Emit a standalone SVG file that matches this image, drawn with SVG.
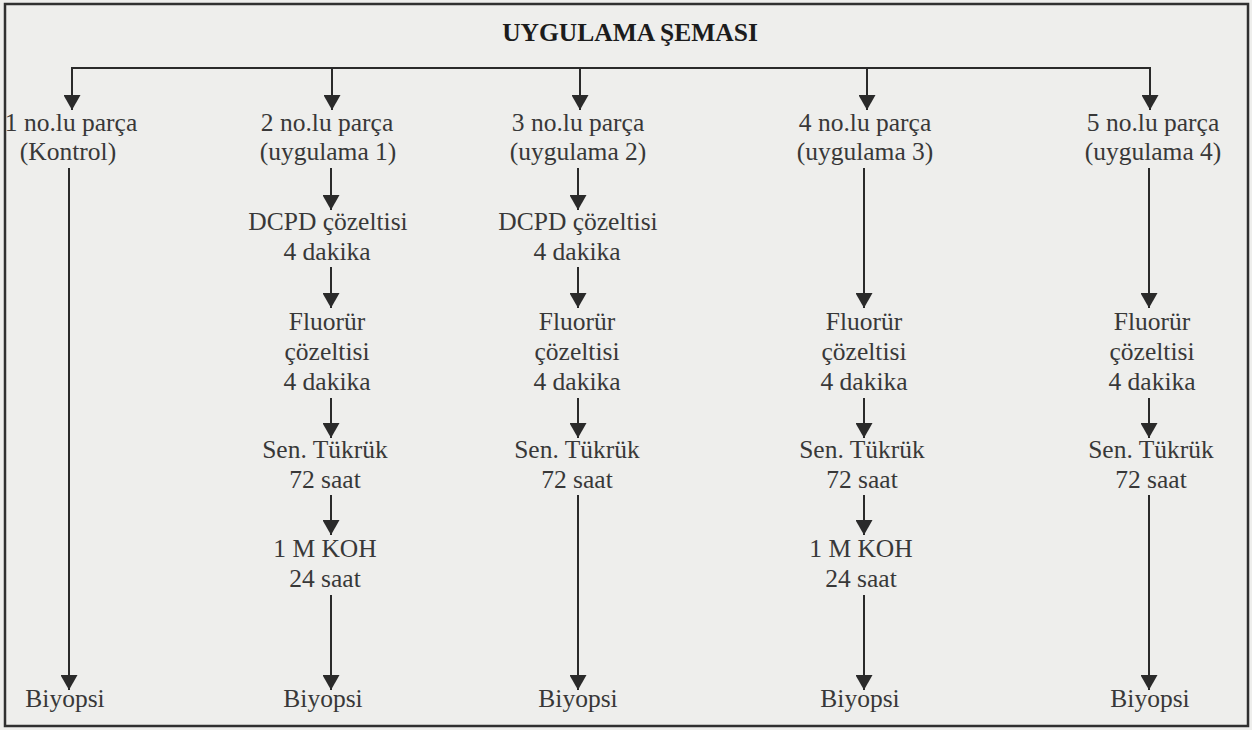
<svg xmlns="http://www.w3.org/2000/svg" width="1252" height="730" viewBox="0 0 1252 730">
<defs>
<marker id="ah" markerUnits="userSpaceOnUse" markerWidth="15" markerHeight="17" refX="15" refY="8.5" orient="auto" viewBox="0 0 15 17">
<path d="M0,0 L15,8.5 L0,17 Z" fill="#2a2a2a"/>
</marker>
<style>
.t{font-family:"Liberation Serif","Times New Roman",serif;font-size:25.5px;fill:#383838;text-anchor:middle}
.h{font-family:"Liberation Serif","Times New Roman",serif;font-size:25.5px;font-weight:bold;fill:#1c1c1c;text-anchor:middle}
.c{stroke:#2a2a2a;stroke-width:2;fill:none}
.a{stroke:#2a2a2a;stroke-width:2;fill:none;marker-end:url(#ah)}
</style>
</defs>
<rect x="0" y="0" width="1252" height="730" fill="#eeeeec"/>
<rect x="5" y="4" width="1243" height="722" fill="none" stroke="#303030" stroke-width="2.5"/>
<text class="h" x="630" y="41">UYGULAMA ŞEMASI</text>
<g id="connectors">
<path class="c" d="M71,68 H1151"/>
<line class="a" x1="72" y1="68" x2="72" y2="110"/>
<line class="a" x1="332" y1="68" x2="332" y2="110"/>
<line class="a" x1="580" y1="68" x2="580" y2="110"/>
<line class="a" x1="867" y1="68" x2="867" y2="110"/>
<line class="a" x1="1150" y1="68" x2="1150" y2="110"/>
<line class="a" x1="69" y1="168" x2="69" y2="690"/>
<line class="a" x1="331" y1="168" x2="331" y2="210"/>
<line class="a" x1="331" y1="267" x2="331" y2="308"/>
<line class="a" x1="331" y1="398" x2="331" y2="438"/>
<line class="a" x1="331" y1="495" x2="331" y2="535"/>
<line class="a" x1="331" y1="595" x2="331" y2="690"/>
<line class="a" x1="578" y1="168" x2="578" y2="210"/>
<line class="a" x1="578" y1="267" x2="578" y2="308"/>
<line class="a" x1="578" y1="398" x2="578" y2="438"/>
<line class="a" x1="578" y1="495" x2="578" y2="690"/>
<line class="a" x1="864" y1="168" x2="864" y2="308"/>
<line class="a" x1="864" y1="398" x2="864" y2="438"/>
<line class="a" x1="864" y1="495" x2="864" y2="535"/>
<line class="a" x1="864" y1="595" x2="864" y2="690"/>
<line class="a" x1="1149" y1="168" x2="1149" y2="308"/>
<line class="a" x1="1149" y1="398" x2="1149" y2="438"/>
<line class="a" x1="1149" y1="495" x2="1149" y2="690"/>
</g>
<g id="col1">
<text class="t" x="71" y="131">1 no.lu parça</text>
<text class="t" x="68" y="160">(Kontrol)</text>
<text class="t" x="65" y="707">Biyopsi</text>
</g>
<g id="col2">
<text class="t" x="327" y="131">2 no.lu parça</text>
<text class="t" x="328" y="160">(uygulama 1)</text>
<text class="t" x="328" y="230">DCPD çözeltisi</text>
<text class="t" x="327" y="260">4 dakika</text>
<text class="t" x="327" y="330">Fluorür</text>
<text class="t" x="327" y="360">çözeltisi</text>
<text class="t" x="327" y="390">4 dakika</text>
<text class="t" x="325" y="458">Sen. Tükrük</text>
<text class="t" x="325" y="488">72 saat</text>
<text class="t" x="325" y="557">1 M KOH</text>
<text class="t" x="325" y="587">24 saat</text>
<text class="t" x="323" y="707">Biyopsi</text>
</g>
<g id="col3">
<text class="t" x="578" y="131">3 no.lu parça</text>
<text class="t" x="578" y="160">(uygulama 2)</text>
<text class="t" x="578" y="230">DCPD çözeltisi</text>
<text class="t" x="577" y="260">4 dakika</text>
<text class="t" x="577" y="330">Fluorür</text>
<text class="t" x="577" y="360">çözeltisi</text>
<text class="t" x="577" y="390">4 dakika</text>
<text class="t" x="577" y="458">Sen. Tükrük</text>
<text class="t" x="577" y="488">72 saat</text>
<text class="t" x="578" y="707">Biyopsi</text>
</g>
<g id="col4">
<text class="t" x="865" y="131">4 no.lu parça</text>
<text class="t" x="865" y="160">(uygulama 3)</text>
<text class="t" x="864" y="330">Fluorür</text>
<text class="t" x="864" y="360">çözeltisi</text>
<text class="t" x="864" y="390">4 dakika</text>
<text class="t" x="862" y="458">Sen. Tükrük</text>
<text class="t" x="862" y="488">72 saat</text>
<text class="t" x="861" y="557">1 M KOH</text>
<text class="t" x="861" y="587">24 saat</text>
<text class="t" x="860" y="707">Biyopsi</text>
</g>
<g id="col5">
<text class="t" x="1153" y="131">5 no.lu parça</text>
<text class="t" x="1153" y="160">(uygulama 4)</text>
<text class="t" x="1152" y="330">Fluorür</text>
<text class="t" x="1152" y="360">çözeltisi</text>
<text class="t" x="1152" y="390">4 dakika</text>
<text class="t" x="1151" y="458">Sen. Tükrük</text>
<text class="t" x="1151" y="488">72 saat</text>
<text class="t" x="1150" y="707">Biyopsi</text>
</g>
</svg>
